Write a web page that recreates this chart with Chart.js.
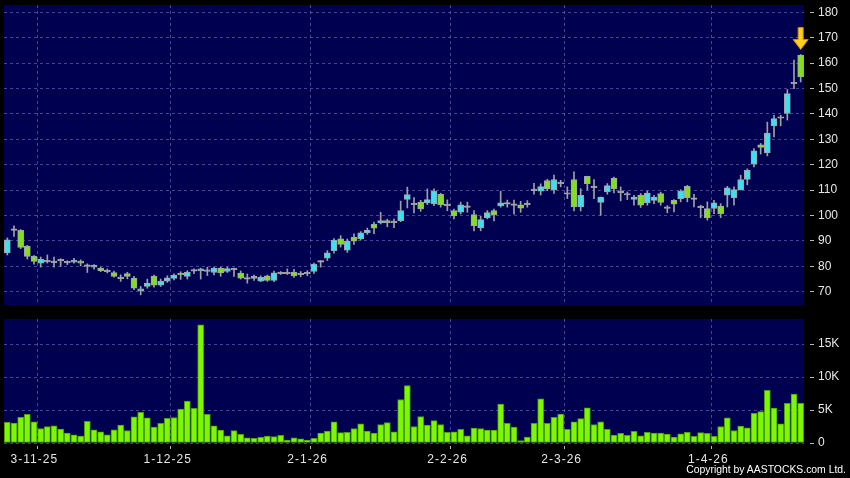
<!DOCTYPE html>
<html>
<head>
<meta charset="utf-8">
<script src="https://cdn.jsdelivr.net/npm/chart.js@4.4.1/dist/chart.umd.min.js"></script>
<style>
  body { margin: 0; background: #000; width: 850px; height: 478px; overflow: hidden; position: relative; }
  #priceBox { position: absolute; left: 0; top: 0; width: 850px; height: 312px; }
  #volBox { position: absolute; left: 0; top: 312px; width: 850px; height: 166px; }
  #copy { position: absolute; right: 4px; top: 464px; color: #fff; font: 10.4px "Liberation Sans", Arial, sans-serif; }
</style>
</head>
<body>
<div id="priceBox"><canvas id="priceChart" width="850" height="312"></canvas></div>
<div id="volBox"><canvas id="volChart" width="850" height="166"></canvas></div>
<div id="copy">Copyright by AASTOCKS.com Ltd.</div>
<script>
// daily OHLC, oldest first
var opens = [85.3, 94.5, 94.2, 88, 84.1, 81.3, 82.1, 81.8, 82.5, 81.7,
  81.7, 82.1, 80.3, 79.7, 79.3, 78.2, 77.6, 75.5, 77.2, 75.4,
  70.4, 72.1, 76.2, 72.6, 74.2, 75.3, 77.4, 76.1, 78.4, 78.2,
  78.3, 77.6, 79.3, 78, 78.9, 77.4, 75.3, 75.3, 74.2, 76.3,
  74.5, 77.4, 77.4, 77.8, 77, 77.4, 78, 82, 83.2, 86.2,
  90.8, 86.4, 91.4, 90.8, 93.2, 96.7, 97.1, 98, 97.5, 98,
  106.4, 104.6, 105.3, 105, 104.6, 108.4, 104.2, 102, 101.3, 103.5,
  100.4, 95.1, 99.1, 102, 103.8, 104.8, 104.3, 104.2, 104.6, 110.1,
  109.6, 113.8, 110.2, 112.9, 108.7, 114.2, 103.4, 115.5, 111.3, 105.2,
  109.3, 114.8, 109.3, 108.4, 106.4, 108, 105, 106, 108.7, 103.1,
  106, 106.7, 111.5, 106.7, 103.4, 102.8, 102.8, 103.7, 108, 107.1,
  110.2, 114.2, 120.2, 127.9, 124.7, 135.3, 138.6, 140.2, 152.2, 163.2];
var highs = [91.2, 96, 94.5, 88.3, 84.3, 83.7, 84.5, 83.7, 83, 82.2,
  83.2, 82.6, 81, 80.7, 79.7, 79, 78.2, 76.7, 77.7, 76.1,
  72.1, 75, 76.6, 75, 76.3, 77.1, 77.9, 78.3, 79, 79.3,
  79.7, 79.7, 79.7, 79.7, 79.3, 78.2, 77, 76.6, 76.3, 76.6,
  78.2, 78, 79, 78.8, 78, 78.3, 81.3, 82.3, 86.2, 90.9,
  92.1, 90.8, 92.8, 93.7, 95.1, 97.4, 101.3, 98.6, 98.6, 105.7,
  111.2, 107.1, 106, 110.5, 110.5, 108.8, 106.2, 102.6, 105.3, 105.3,
  102, 99.7, 102, 102.6, 109.6, 106.1, 106.1, 105.6, 105.9, 112.7,
  112.5, 114.3, 115.9, 113.9, 111.3, 117.2, 110.6, 115.5, 114.2, 107.3,
  112.6, 115.2, 111.3, 109.3, 108, 108.7, 109.7, 108, 109.2, 103.9,
  106.3, 110.2, 111.9, 108.4, 104.1, 105.4, 106, 104.7, 111.5, 111.3,
  115.9, 118.4, 126.4, 128.4, 136.8, 139.5, 139.5, 149.6, 161.2, 163.4];
var lows = [84.5, 91.8, 87, 82.9, 80.9, 79.7, 81.3, 79.7, 80, 80.7,
  81.3, 80.2, 77.6, 78.9, 77.9, 77.4, 75.8, 74.1, 75.1, 70.8,
  68.8, 71.4, 71.8, 72.1, 73.7, 74.7, 74.9, 75, 77.1, 75,
  76.4, 76.6, 76.1, 77.6, 76.1, 75, 73.4, 74.5, 74, 74.1,
  74, 76.8, 76.8, 75.7, 75.9, 76.3, 77.2, 79.7, 82.3, 85.2,
  87.6, 85.5, 88.6, 90.4, 92.6, 92.9, 96.7, 95.6, 95.2, 97.6,
  103, 101, 101.7, 104.3, 103.9, 103.3, 101.9, 98.7, 100.6, 101.3,
  94, 94, 98.7, 97.9, 103.3, 103.3, 100.6, 101.3, 103.3, 108.4,
  108.1, 109.8, 108.7, 111.3, 106.7, 101.8, 101.8, 110.1, 106.7, 100.1,
  108.4, 108.9, 105.8, 106.3, 104.1, 103.2, 104.1, 104.7, 104.1, 101.1,
  101.4, 105.4, 105.4, 103.4, 99.2, 98.2, 100.8, 99.2, 103.4, 104.1,
  110, 112.1, 119.2, 124.2, 123.5, 131, 135.3, 137.6, 150, 152.6];
var closes = [90.5, 94.5, 87.5, 83.9, 82, 82.9, 82.1, 81.8, 82.5, 81.7,
  82.5, 81.3, 80.3, 80.4, 78.3, 78.2, 76.1, 75.5, 76.1, 71.4,
  71.2, 73.4, 72.6, 74.2, 75.5, 76.6, 76.7, 77.8, 78.4, 79,
  78.3, 79.3, 77.4, 79.1, 78.9, 75.4, 75.3, 76.1, 75.7, 74.5,
  77.5, 77.4, 77.4, 76.2, 77, 77.4, 80.9, 82, 85.3, 90.4,
  88.6, 90, 89.9, 93.2, 94.3, 95, 98, 97.2, 97.5, 102,
  108.3, 104.6, 102.6, 106.3, 109.5, 104.2, 104.2, 99.9, 104.2, 103.5,
  96, 98.4, 101.2, 100.4, 105, 104.8, 104.3, 102.9, 104.6, 110.1,
  111.4, 110.5, 114.2, 112.9, 108.7, 103.4, 108, 112.6, 111.3, 107.3,
  111.8, 110.6, 109.3, 108.4, 107.3, 104.1, 108.9, 107.3, 105.2, 103.1,
  104.5, 109.6, 107.1, 106.7, 103.4, 99.1, 105, 100.8, 110.9, 110.2,
  114.2, 117.8, 125.5, 126.8, 132.5, 138.2, 138.6, 148, 152.2, 154.6];
var volumes = [3130, 3030, 3900, 4350, 3200, 2200, 2500, 2600, 2100, 1500,
  1250, 1050, 3300, 2000, 1700, 1250, 2000, 2700, 1900, 3950,
  4650, 3800, 2400, 3000, 3750, 3850, 5150, 6350, 5250, 17900,
  4350, 2600, 1970, 1100, 1870, 1300, 800, 700, 850, 1060,
  960, 1160, 450, 800, 650, 450, 700, 1500, 1800, 3200,
  1570, 1600, 2200, 2900, 1800, 1500, 2800, 3100, 1700, 6600,
  8700, 2500, 4000, 2700, 3400, 2800, 1600, 1700, 2070, 1100,
  2270, 2200, 1970, 1970, 5900, 3000, 2400, 350, 900, 3000,
  6700, 3000, 3900, 4400, 2070, 3200, 3700, 5350, 2800, 3200,
  2070, 1200, 1460, 1150, 1770, 1100, 1600, 1500, 1500, 1360,
  900, 1400, 1600, 1000, 1570, 1460, 1000, 2500, 3800, 1900,
  2560, 2300, 4500, 4750, 8000, 5300, 2900, 6000, 7400, 6000];
// date ticks (position in bar index units) and their labels
var tickPos = [4.5, 24.5, 45.5, 66.5, 83.6, 105.6];
var tickLabels = ['3-11-25', '1-12-25', '2-1-26', '2-2-26', '2-3-26', '1-4-26'];
var priceTicks = [70, 80, 90, 100, 110, 120, 130, 140, 150, 160, 170, 180];
var volTicks = [0, 5000, 10000, 15000];

var NAVY = '#000050';
var GRIDC = 'rgba(125,125,200,0.55)';
var TXT = '#e6e6e6';
var FONT = { family: '"Liberation Sans", Arial, sans-serif', size: 12 };

var idx = opens.map(function (_, i) { return i; });

// navy panel behind plot area
var panelBg = {
    id: 'panelBg',
    beforeDraw: function (chart) {
        var a = chart.chartArea, ctx = chart.ctx;
        ctx.save();
        ctx.fillStyle = NAVY;
        ctx.fillRect(a.left, a.top, a.right - a.left, a.bottom - a.top);
        ctx.restore();
    }
};

// yellow arrow over the latest candle
var lastArrow = {
    id: 'lastArrow',
    afterDatasetsDraw: function (chart) {
        var n = highs.length - 1;
        var x = chart.scales.x.getPixelForValue(n);
        var tip = chart.scales.y.getPixelForValue(highs[n]) - 5;
        var ctx = chart.ctx;
        ctx.save();
        ctx.beginPath();
        ctx.moveTo(x - 2.5, tip - 22);
        ctx.lineTo(x + 2.5, tip - 22);
        ctx.lineTo(x + 2.5, tip - 10);
        ctx.lineTo(x + 7.5, tip - 10);
        ctx.lineTo(x, tip);
        ctx.lineTo(x - 7.5, tip - 10);
        ctx.lineTo(x - 2.5, tip - 10);
        ctx.closePath();
        ctx.fillStyle = '#ffd21a';
        ctx.fill();
        ctx.strokeStyle = '#d08a00';
        ctx.lineWidth = 1;
        ctx.stroke();
        ctx.restore();
    }
};

function xAxis(showLabels) {
    return {
        type: 'linear',
        min: -0.5,
        max: opens.length - 0.5,
        offset: false,
        afterBuildTicks: function (s) {
            s.ticks = tickPos.map(function (v) { return { value: v }; });
        },
        afterFit: function (s) {
            s.height = showLabels ? 35 : 0;
            s.paddingLeft = 0;
            s.paddingRight = 0;
            // date labels are drawn slightly letter-spaced
            if (showLabels && !s._spaced) {
                var draw = s.drawLabels;
                s.drawLabels = function (area) {
                    this.ctx.save();
                    this.ctx.letterSpacing = '1px';
                    draw.call(this, area);
                    this.ctx.restore();
                };
                s._spaced = true;
            }
        },
        grid: {
            offset: false,
            color: GRIDC,
            drawTicks: showLabels,
            tickLength: 8,
            tickColor: '#bbbbbb',
            tickBorderDash: [0, 3, 3, 20]
        },
        border: { display: false, dash: [3, 3] },
        ticks: {
            display: showLabels,
            autoSkip: false,
            maxRotation: 0,
            labelOffset: -3,
            color: TXT,
            font: FONT,
            padding: 1,
            callback: function (v, i) { return tickLabels[i]; }
        }
    };
}

function yAxis(min, max, vals, fmt) {
    return {
        position: 'right',
        min: min,
        max: max,
        afterBuildTicks: function (s) {
            s.ticks = vals.map(function (v) { return { value: v }; });
        },
        afterFit: function (s) {
            s.width = 46;
            s.paddingTop = 0;
            s.paddingBottom = 0;
        },
        grid: {
            color: GRIDC,
            tickLength: 10,
            tickColor: '#bbbbbb',
            tickBorderDash: [0, 6, 4, 20]
        },
        border: { display: false, dash: [3, 3] },
        ticks: {
            color: TXT,
            font: FONT,
            padding: 4,
            callback: fmt
        }
    };
}

var wickData = idx.map(function (i) { return { x: i, y: [lows[i], highs[i]] }; });
var bodyData = idx.map(function (i) {
    var o = opens[i], c = closes[i];
    if (o === c) return { x: i, y: [o - 0.3, o + 0.3] };
    return { x: i, y: [o, c] };
});
var bodyColors = idx.map(function (i) {
    if (closes[i] > opens[i]) return '#3ce0f2';
    if (closes[i] < opens[i]) return '#80e01e';
    return '#b4b4b4';
});

new Chart(document.getElementById('priceChart').getContext('2d'), {
    type: 'bar',
    data: {
        datasets: [{
            label: 'wick',
            data: wickData,
            backgroundColor: '#a0a0a0',
            barThickness: 1,
            grouped: false,
            order: 1
        }, {
            label: 'body',
            data: bodyData,
            backgroundColor: bodyColors,
            borderColor: '#a4a4a4',
            borderWidth: 1,
            borderSkipped: false,
            barThickness: 6,
            grouped: false,
            order: 0
        }]
    },
    options: {
        responsive: false,
        animation: false,
        devicePixelRatio: 1,
        layout: { padding: { left: 4, top: 5, bottom: 7, right: 0 } },
        plugins: { legend: { display: false }, tooltip: { enabled: false } },
        scales: {
            x: xAxis(false),
            y: yAxis(64.8, 182.9, priceTicks, function (v) { return v; })
        }
    },
    plugins: [panelBg, lastArrow]
});

new Chart(document.getElementById('volChart').getContext('2d'), {
    type: 'bar',
    data: {
        datasets: [{
            label: 'volume',
            data: idx.map(function (i) { return { x: i, y: volumes[i] }; }),
            backgroundColor: '#7cf800',
            borderColor: '#4f9e00',
            borderWidth: 1,
            borderSkipped: false,
            barThickness: 6
        }]
    },
    options: {
        responsive: false,
        animation: false,
        devicePixelRatio: 1,
        layout: { padding: { left: 4, top: 7, bottom: 0, right: 0 } },
        plugins: { legend: { display: false }, tooltip: { enabled: false } },
        scales: {
            x: xAxis(true),
            y: yAxis(0, 18800, volTicks, function (v) { return v === 0 ? '0' : (v / 1000) + 'K'; })
        }
    },
    plugins: [panelBg]
});
</script>
</body>
</html>
